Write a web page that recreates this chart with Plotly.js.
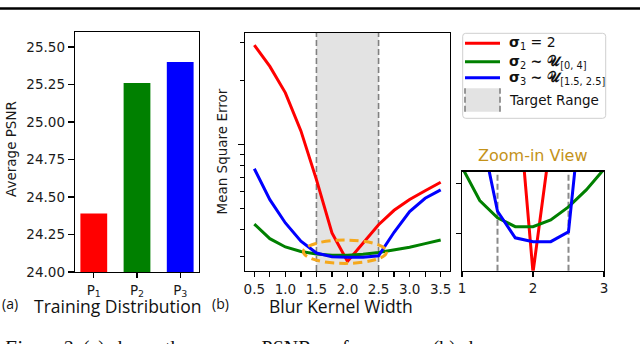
<!DOCTYPE html>
<html><head><meta charset="utf-8">
<script src="https://cdn.plot.ly/plotly-3.0.1.min.js"></script>
<style>html,body{margin:0;padding:0;background:#fff;}#chart{width:640px;height:344px;}</style>
</head><body><div id="chart"></div>
<script>
// ---- data ----
const categories = ['P<sub>1</sub>', 'P<sub>2</sub>', 'P<sub>3</sub>'];
const avgPsnr = [24.39, 25.26, 25.40];
const psnrTickVals = [24.00, 24.25, 24.50, 24.75, 25.00, 25.25, 25.50];
const kernelWidth = [0.5, 0.75, 1.0, 1.25, 1.5, 1.75, 2.0, 2.25, 2.5, 2.75, 3.0, 3.25, 3.5];
const mseSigma1 = [2.93, 2.33, 1.75, 1.16, 0.685, 0.385, 0.283, 0.346, 0.421, 0.492, 0.553, 0.608, 0.666];
const mseSigma2 = [0.424, 0.362, 0.331, 0.315, 0.307, 0.303, 0.303, 0.306, 0.312, 0.320, 0.330, 0.343, 0.357];
const mseSigma3 = [0.771, 0.552, 0.429, 0.352, 0.310, 0.298, 0.2963, 0.2963, 0.3007, 0.388, 0.485, 0.560, 0.613];
const kernelTickVals = [0.5, 1.0, 1.5, 2.0, 2.5, 3.0, 3.5];
const kernelTickText = ['0.5', '1.0', '1.5', '2.0', '2.5', '3.0', '3.5'];
const kernelMinorTicks = [0.75, 1.25, 1.75, 2.25, 2.75, 3.25];
const zoomTickVals = [1, 2, 3];
const zoomTickText = ['1', '2', '3'];
const targetRange = [1.5, 2.5];
const seriesNames = ['<b>σ</b><sub>1</sub> = 2', '<b>σ</b><sub>2</sub> <b>~ 𝒰</b><sub>[0, 4]</sub>', '<b>σ</b><sub>3</sub> <b>~ 𝒰</b><sub>[1.5, 2.5]</sub>', 'Target Range'];
const seriesColors = ['#ff0000', '#008000', '#0000ff'];

// ---- helpers (pixel -> paper) ----
const W = 640, H = 344;
const px = v => v / W;
const py = v => 1 - v / H;
const tickFont = {family: 'DejaVu Sans, sans-serif', size: 13.5, color: '#1a1a1a'};
const AX = {showline: true, linecolor: '#000', linewidth: 1.3, mirror: true, ticks: 'outside',
  tickcolor: '#000', tickwidth: 1.2, showgrid: false, zeroline: false, tickfont: tickFont, fixedrange: true};

const series = [mseSigma1, mseSigma2, mseSigma3];
const traces = [];
traces.push({type: 'bar', x: categories, y: avgPsnr, marker: {color: seriesColors, line: {width: 0}},
  width: 0.62, xaxis: 'x', yaxis: 'y', hoverinfo: 'skip'});
series.forEach((s, i) => {
  traces.push({type: 'scatter', mode: 'lines', x: kernelWidth, y: s, line: {color: seriesColors[i], width: 3},
    xaxis: 'x2', yaxis: 'y2', name: seriesNames[i]});
});
series.forEach((s, i) => {
  traces.push({type: 'scatter', mode: 'lines', x: kernelWidth, y: s, line: {color: seriesColors[i], width: 3},
    xaxis: 'x3', yaxis: 'y3', showlegend: false});
});

function roundRect(x0, y0, x1, y1, r) {
  const X = v => px(v), Y = v => py(v);
  return `M${X(x0 + r)},${Y(y0)} L${X(x1 - r)},${Y(y0)} Q${X(x1)},${Y(y0)} ${X(x1)},${Y(y0 + r)} ` +
    `L${X(x1)},${Y(y1 - r)} Q${X(x1)},${Y(y1)} ${X(x1 - r)},${Y(y1)} L${X(x0 + r)},${Y(y1)} ` +
    `Q${X(x0)},${Y(y1)} ${X(x0)},${Y(y1 - r)} L${X(x0)},${Y(y0 + r)} Q${X(x0)},${Y(y0)} ${X(x0 + r)},${Y(y0)} Z`;
}

const shapes = [
  // page header rule
  {type: 'line', xref: 'paper', yref: 'paper', x0: 0, x1: 1, y0: py(8.5), y1: py(8.5), line: {color: '#000', width: 2.6}},
  // target range shading and dashed borders (panel b)
  {type: 'rect', xref: 'x2', yref: 'y2 domain', x0: targetRange[0], x1: targetRange[1], y0: 0, y1: 1,
    fillcolor: '#e3e3e3', line: {width: 0}, layer: 'below'},
  ...targetRange.map(v => ({type: 'line', xref: 'x2', yref: 'y2 domain', x0: v, x1: v, y0: 0, y1: 1,
    line: {color: '#808080', width: 1.6, dash: '6px,3px'}, layer: 'below'})),
  // zoom-in view dashed borders
  ...targetRange.map(v => ({type: 'line', xref: 'x3', yref: 'y3 domain', x0: v, x1: v, y0: 0, y1: 1,
    line: {color: '#8a8a8a', width: 2, dash: '6px,3px'}, layer: 'below'})),
  // orange highlight ellipse
  {type: 'circle', xref: 'x2', yref: 'y2 domain', x0: 1.29, x1: 2.63, y0: 0.032, y1: 0.13,
    line: {color: '#f5a81c', width: 3, dash: '9px,5px'}, layer: 'above'},
  // legend box
  {type: 'path', xref: 'paper', yref: 'paper', path: roundRect(462.7, 33.3, 605.7, 118.3, 3),
    line: {color: '#cfcfcf', width: 1}, fillcolor: 'rgba(255,255,255,0.9)'},
  // legend handles
  ...[43.3, 61.7, 77.7].map((yy, i) => ({type: 'line', xref: 'paper', yref: 'paper', x0: px(465), x1: px(500),
    y0: py(yy), y1: py(yy), line: {color: seriesColors[i], width: 3}})),
  {type: 'rect', xref: 'paper', yref: 'paper', x0: px(465), x1: px(500), y0: py(111.7), y1: py(88.3),
    fillcolor: '#e3e3e3', line: {width: 0}},
  ...[465, 500].map(xx => ({type: 'line', xref: 'paper', yref: 'paper', x0: px(xx), x1: px(xx), y0: py(111.7), y1: py(88.3),
    line: {color: '#808080', width: 1.6, dash: '6px,3px'}}))
];

const labelFont = {family: 'Open Sans, sans-serif', size: 17.5, color: '#111'};
const ann = (text, x, y, opts) => Object.assign({text, x: px(x), y: py(y), xref: 'paper', yref: 'paper',
  showarrow: false, xanchor: 'center', yanchor: 'middle', font: tickFont}, opts || {});
const legendFont = {family: 'DejaVu Sans, sans-serif', size: 14, color: '#111'};
const annotations = [
  ann('Average PSNR', 11, 149, {textangle: -90}),
  ann('Mean Square Error', 221.5, 152, {textangle: -90}),
  ann('(a)', 10, 303, {font: {family: 'Open Sans, sans-serif', size: 14, color: '#111'}}),
  ann('Training Distribution', 117, 306, {font: labelFont}),
  ann('(b)', 220, 303, {font: {family: 'Open Sans, sans-serif', size: 14, color: '#111'}}),
  ann('Blur Kernel Width', 341, 305.5, {font: labelFont}),
  ann('Zoom-in View', 533, 155, {font: {family: 'DejaVu Sans, sans-serif', size: 16, color: '#c49219'}}),
  ann(seriesNames[0], 507, 43.3, {xanchor: 'left', font: legendFont}),
  ann(seriesNames[1], 507, 61.7, {xanchor: 'left', font: legendFont}),
  ann(seriesNames[2], 507, 77.7, {xanchor: 'left', font: legendFont}),
  ann(seriesNames[3], 507, 100, {xanchor: 'left', font: Object.assign({}, legendFont, {size: 13.5})}),
  ann('<i>Figure 2.</i> (a) shows the average PSNR performance.  (b) shows', 1, 335,
    {xanchor: 'left', yanchor: 'top', font: {family: 'Liberation Serif, serif', size: 20, color: '#111'}})
];

const layout = {
  width: W, height: H, margin: {l: 0, r: 0, t: 0, b: 0}, showlegend: false,
  paper_bgcolor: '#fff', plot_bgcolor: '#fff',
  xaxis: Object.assign({}, AX, {domain: [px(75), px(199)], type: 'category', range: [-0.435, 2.435],
    ticklen: 5, anchor: 'y'}),
  yaxis: Object.assign({}, AX, {domain: [py(272), py(32)], range: [24, 25.6], tickvals: psnrTickVals,
    tickformat: '.2f', ticklen: 6, anchor: 'x'}),
  xaxis2: Object.assign({}, AX, {domain: [px(245), px(450)], range: [0.35, 3.65], tickmode: 'array',
    tickvals: kernelTickVals, ticktext: kernelTickText, ticklen: 5, anchor: 'y2',
    minor: {tickmode: 'array', tickvals: kernelMinorTicks, ticks: 'outside', ticklen: 5,
      tickcolor: '#000', tickwidth: 1.2, showgrid: false}}),
  yaxis2: Object.assign({}, AX, {domain: [py(271), py(33)], type: 'log', range: [-0.593, 0.524],
    tickmode: 'array', tickvals: [1], ticklen: 6, showticklabels: false, anchor: 'x2',
    minor: {tickmode: 'array', tickvals: [0.3, 0.4, 0.5, 0.6, 0.7, 0.8, 0.9, 2, 3], ticks: 'outside', ticklen: 3.5,
      tickcolor: '#000', tickwidth: 1, showgrid: false}}),
  xaxis3: Object.assign({}, AX, {domain: [px(462), px(604)], range: [1, 3], tickmode: 'array',
    tickvals: zoomTickVals, ticktext: zoomTickText, ticklen: 5, anchor: 'y3'}),
  yaxis3: Object.assign({}, AX, {domain: [py(270.7), py(171.7)], type: 'log', range: [-0.5470, -0.4831],
    tickmode: 'array', tickvals: [0.300, 0.3231], ticklen: 5, showticklabels: false, anchor: 'x3'}),
  shapes, annotations
};
Plotly.newPlot('chart', traces, layout, {staticPlot: true, displayModeBar: false});
</script></body></html>
